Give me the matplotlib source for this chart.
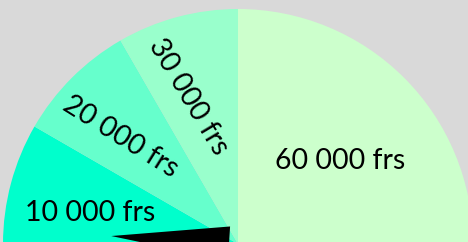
import numpy as np
import matplotlib
matplotlib.use("Agg")
import matplotlib.pyplot as plt
from matplotlib.patches import Polygon

# Gauge bands (width of each range) and labels
band_labels = ["10 000 frs", "20 000 frs", "30 000 frs", "60 000 frs"]
band_widths = [10000, 10000, 10000, 30000]
band_colors = ["#00FFCC", "#66FFCC", "#99FFCC", "#CCFFCC"]
needle_value = 1200
gauge_max = sum(band_widths)

BG = "#D9D9D9"
R = 235.0

fig = plt.figure(figsize=(4.68, 2.42), dpi=100, facecolor=BG)
ax = fig.add_axes([0, 0, 1, 1])
ax.set_facecolor(BG)
ax.set_xlim(-238, 230)
ax.set_ylim(2, 244)
ax.set_aspect("equal")
ax.axis("off")

# pie: visible bands + hidden lower half
vals = band_widths + [gauge_max]
cols = band_colors + ["none"]
wedges, _ = ax.pie(vals, colors=cols, startangle=180, counterclock=False,
                   radius=R, center=(0, 0), frame=True,
                   wedgeprops=dict(linewidth=0))
ax.set_xlim(-238, 230)
ax.set_ylim(2, 244)
ax.axis("off")

# labels
label_pos = [(-148, 31), (-117, 107), (-50, 147), (102, 83)]
label_rot = [0, -32, -59, 0]
for lab, (x, y), rot in zip(band_labels, label_pos, label_rot):
    ax.text(x, y, lab, ha="center", va="center", rotation=rot,
            rotation_mode="anchor", fontsize=20.5, family=["Lato", "DejaVu Sans"],
            color="black")

# needle
theta = np.deg2rad(180 - needle_value / gauge_max * 180)
d = np.array([np.cos(theta), np.sin(theta)])
p = np.array([-d[1], d[0]])
tip = d * 127
base_c = d * 9
pts = [tip, base_c + p * 17, base_c - p * 17]
ax.add_patch(Polygon(pts, closed=True, facecolor="black", edgecolor="none", zorder=5))

fig.savefig("out.png", dpi=100, facecolor=BG)
